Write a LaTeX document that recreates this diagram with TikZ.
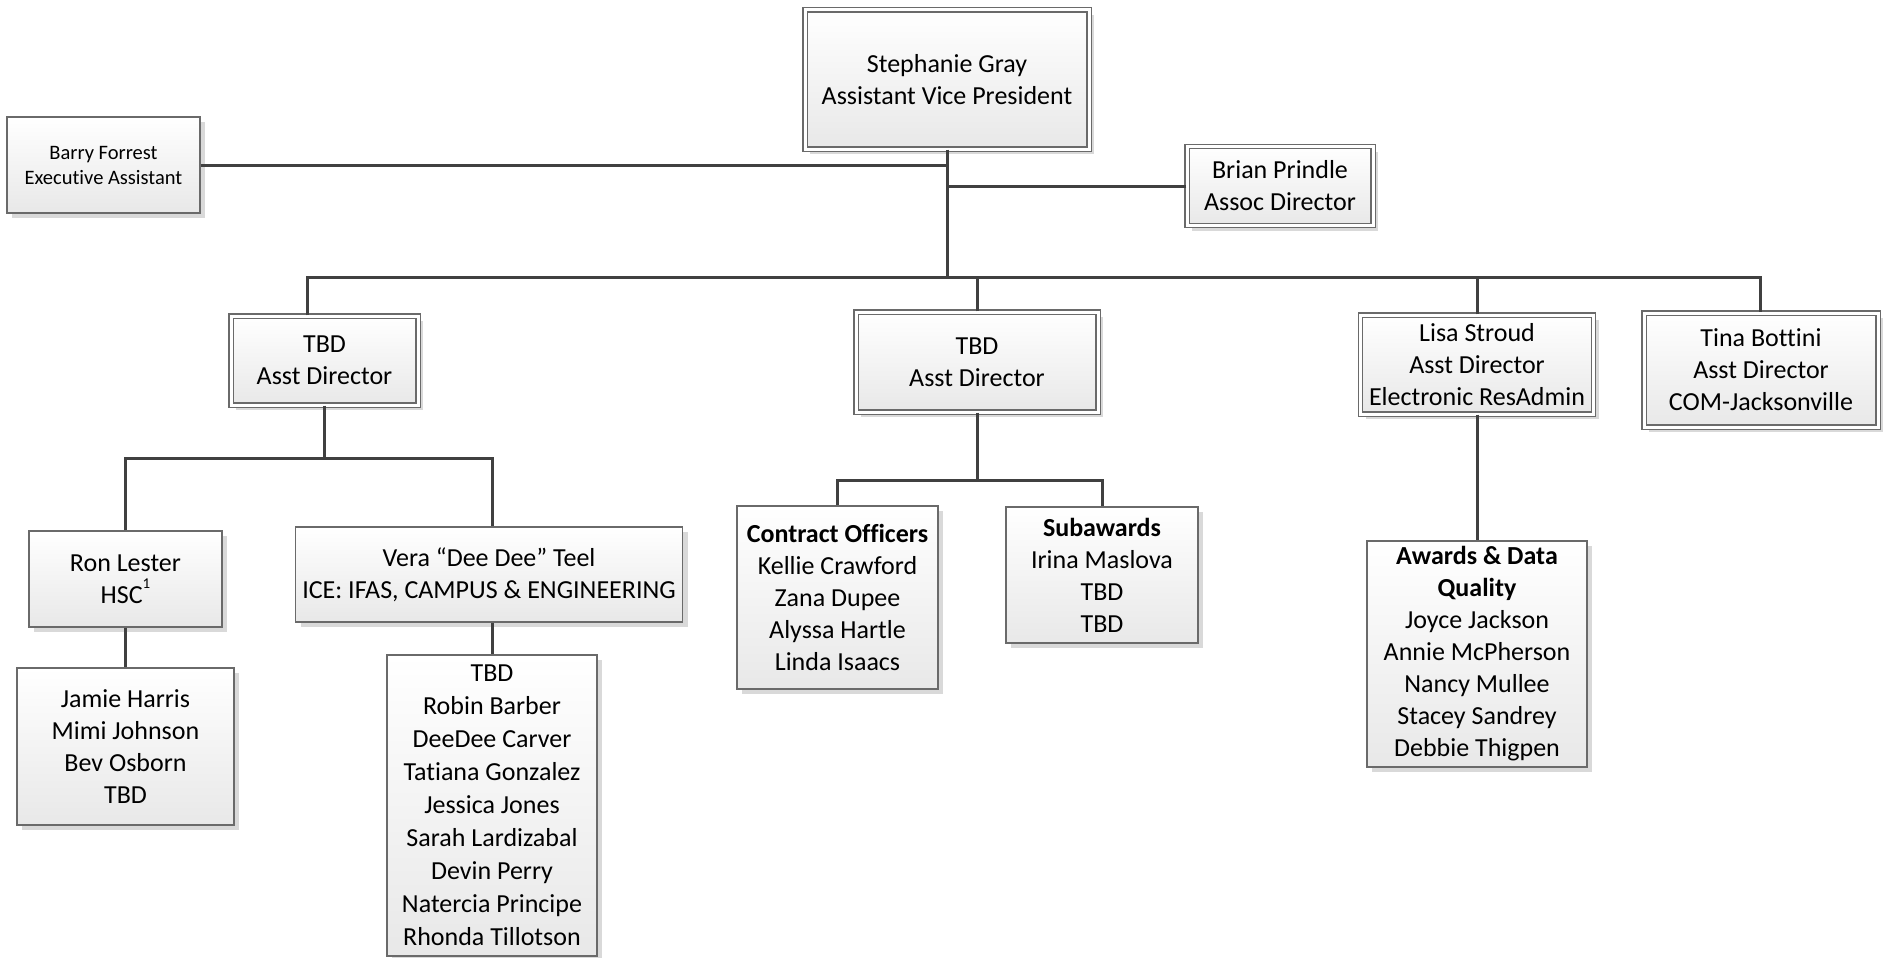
\documentclass[tikz,border=0pt]{standalone}
\usepackage{fontspec}
\setmainfont{Carlito}[Ligatures={NoCommon,NoRequired,NoContextual,NoRare}]
\usetikzlibrary{shadows}
\definecolor{linec}{HTML}{404040}
\definecolor{borderc}{HTML}{6A6A6A}
\definecolor{fillb}{HTML}{E8E8E8}
\definecolor{shadowc}{HTML}{D9D9D9}
\begin{document}
\begin{tikzpicture}[x=1pt,y=-1pt,
  base/.style={rectangle, draw=borderc, line width=1.3pt, top color=white, bottom color=fillb,
    align=center, inner sep=0pt, font=\fontsize{26}{32}\selectfont,
    drop shadow={shadow xshift=5pt, shadow yshift=-5pt, fill=shadowc, opacity=1}},
  single/.style={base},
  dbl/.style={base, double=white, double distance=3pt},
  conn/.style={draw=linec, line width=3pt}]
\useasboundingbox[fill=white] (0,0) rectangle (1891,958);

% level 0/1
\node[dbl, minimum width=284pt, minimum height=139pt] (sg) at (947,79.5) {Stephanie Gray\\Assistant Vice President};
\node[single, minimum width=193pt, minimum height=96pt, font=\fontsize{20.5}{25}\selectfont] (bf) at (103.5,165) {Barry Forrest\\Executive Assistant};
\node[dbl, minimum width=186pt, minimum height=79pt] (bp) at (1280,186) {Brian Prindle\\Assoc Director};

% level 2
\node[dbl, minimum width=187pt, minimum height=89pt] (tl) at (324.5,360.5) {TBD\\Asst Director};
\node[dbl, minimum width=242pt, minimum height=100pt] (tm) at (977,362) {TBD\\Asst Director};
\node[dbl, minimum width=233pt, minimum height=99pt] (ls) at (1477,364.5) {Lisa Stroud\\Asst Director\\Electronic ResAdmin};
\node[dbl, minimum width=234pt, minimum height=114pt] (tb) at (1761,370) {Tina Bottini\\Asst Director\\COM-Jacksonville};

% level 3
\node[single, minimum width=193pt, minimum height=96pt] (rl) at (125.5,579) {Ron Lester\\HSC\raisebox{0.55em}{\fontsize{15}{15}\selectfont 1}};
\node[single, minimum width=217pt, minimum height=157pt] (jh) at (125.5,746.5) {Jamie Harris\\Mimi Johnson\\Bev Osborn\\TBD};
\node[single, minimum width=387pt, minimum height=95pt] (vt) at (489,574.5) {Vera “Dee Dee” Teel\\ICE: IFAS, CAMPUS \& ENGINEERING};
\node[single, minimum width=210pt, minimum height=301pt, font=\fontsize{26}{33}\selectfont] (vs) at (492,805.5) {TBD\\Robin Barber\\DeeDee Carver\\Tatiana Gonzalez\\Jessica Jones\\Sarah Lardizabal\\Devin Perry\\Natercia Principe\\Rhonda Tillotson};
\node[single, minimum width=201pt, minimum height=183pt] (co) at (837.5,597.5) {\textbf{Contract Officers}\\Kellie Crawford\\Zana Dupee\\Alyssa Hartle\\Linda Isaacs};
\node[single, minimum width=192pt, minimum height=136pt] (sa) at (1102,575) {\textbf{Subawards}\\Irina Maslova\\TBD\\TBD};
\node[single, minimum width=220pt, minimum height=226pt] (ad) at (1477,654) {\textbf{Awards \& Data}\\\textbf{Quality}\\Joyce Jackson\\Annie McPherson\\Nancy Mullee\\Stacey Sandrey\\Debbie Thigpen};

% connectors
\coordinate (bus) at (948,277);
\coordinate (bL) at (307,277);
\coordinate (bR) at (1760,277);
\coordinate (brL) at (325,458);
\coordinate (brM) at (977,480);
\draw[conn] (sg.south) -- (sg.south |- bus);
\draw[conn] (bf.east) -- (bf.east -| sg.south);
\draw[conn] (bp.west) -- (bp.west -| sg.south);
\draw[conn] (bL |- tl.north) -- (bL) -- (bR) -- (bR |- tb.north);
\draw[conn] (tm.north) -- (tm.north |- bus);
\draw[conn] (ls.north) -- (ls.north |- bus);
\draw[conn] (tl.south) -- (tl.south |- brL);
\draw[conn] (rl.north) -- (rl.north |- brL) -- (vs.north |- brL) -- (vs.north |- vt.north);
\draw[conn] (vt.south -| vs.north) -- (vs.north);
\draw[conn] (rl.south) -- (jh.north);
\draw[conn] (tm.south) -- (tm.south |- brM);
\draw[conn] (co.north) -- (co.north |- brM) -- (sa.north |- brM) -- (sa.north);
\draw[conn] (ls.south) -- (ad.north);
\end{tikzpicture}
\end{document}
